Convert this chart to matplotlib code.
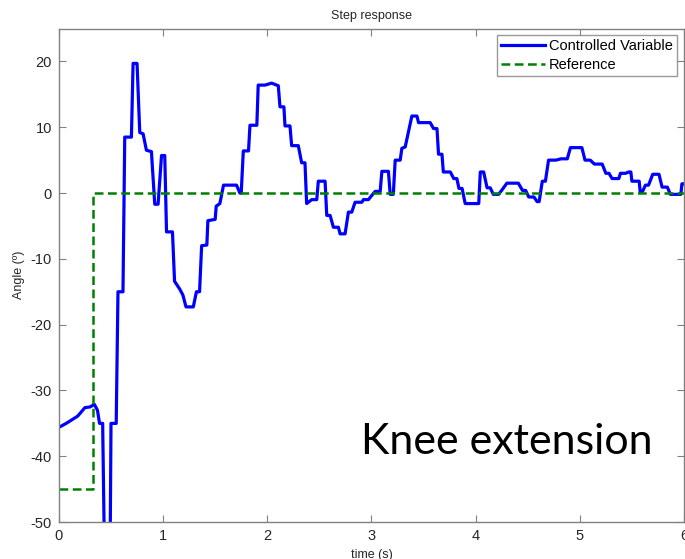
import matplotlib
matplotlib.use("Agg")
import matplotlib.pyplot as plt

plt.rcParams['font.family'] = ['Liberation Sans', 'DejaVu Sans']
plt.rcParams['axes.unicode_minus'] = False

# Measured joint angle (controlled variable) over time
t_meas = [0.00, 0.07, 0.12, 0.18, 0.25, 0.30, 0.34, 0.37, 0.39, 0.42, 0.44, 0.49, 0.50, 0.55,
          0.567, 0.615, 0.632, 0.696, 0.712, 0.75, 0.776, 0.808, 0.84, 0.888, 0.92, 0.952,
          0.985, 1.016, 1.033, 1.09, 1.11, 1.16, 1.19, 1.22, 1.29, 1.32, 1.35, 1.37, 1.42,
          1.43, 1.50, 1.51, 1.545, 1.58, 1.705, 1.737, 1.75, 1.77, 1.82, 1.834, 1.90, 1.913,
          1.978, 2.042, 2.106, 2.122, 2.16, 2.17, 2.218, 2.234, 2.298, 2.33, 2.362, 2.378,
          2.427, 2.475, 2.49, 2.555, 2.571, 2.603, 2.635, 2.683, 2.699, 2.747, 2.779, 2.811,
          2.843, 2.908, 2.923, 2.971, 3.004, 3.036, 3.084, 3.10, 3.163, 3.18, 3.21, 3.228,
          3.276, 3.292, 3.324, 3.388, 3.437, 3.452, 3.564, 3.596, 3.629, 3.644, 3.677, 3.69,
          3.757, 3.79, 3.82, 3.84, 3.87, 3.90, 4.03, 4.045, 4.077, 4.11, 4.14, 4.17, 4.22,
          4.25, 4.30, 4.41, 4.45, 4.48, 4.51, 4.56, 4.59, 4.61, 4.64, 4.67, 4.70, 4.77,
          4.82, 4.88, 4.91, 5.02, 5.05, 5.10, 5.14, 5.215, 5.25, 5.28, 5.31, 5.375, 5.39,
          5.44, 5.47, 5.49, 5.50, 5.57, 5.58, 5.60, 5.63, 5.66, 5.70, 5.76, 5.79, 5.84,
          5.87, 5.97, 5.98, 6.00]
angle_meas = [-35.6, -35.0, -34.5, -33.9, -32.6, -32.5, -32.1, -33.0, -35.0, -35.0, -58.0, -58.0,
              -35.0, -35.0, -15.0, -15.0, 8.5, 8.5, 19.7, 19.7, 9.2, 9.0, 6.5, 6.3, -1.7, -1.7,
              5.7, 5.7, -5.9, -5.9, -13.4, -14.6, -15.5, -17.3, -17.3, -15.0, -15.0, -8.0, -7.9,
              -4.2, -4.0, -2.0, -1.6, 1.2, 1.2, 0.0, 0.0, 6.4, 6.4, 10.3, 10.3, 16.4,
              16.4, 16.7, 16.3, 13.1, 13.1, 10.2, 10.2, 7.2, 7.2, 4.6, 4.6, -1.6,
              -1.0, -1.0, 1.8, 1.8, -3.4, -3.4, -5.2, -5.2, -6.2, -6.2, -2.9, -2.9,
              -1.4, -1.4, -1.0, -1.0, -0.35, 0.25, 0.25, 3.3, 3.3, -0.2, -0.2, 5.0,
              5.0, 6.8, 7.0, 11.7, 11.7, 10.7, 10.7, 9.8, 9.8, 5.9, 5.9, 3.2,
              3.2, 2.2, 2.2, 0.7, 0.7, -1.6, -1.6, 3.2, 3.2, 0.8, 0.8, -0.2, -0.2,
              0.4, 1.5, 1.5, 0.4, 0.4, -0.6, -0.6, -1.3, -1.3, 1.8, 1.8, 5.0, 5.0,
              5.2, 5.2, 6.9, 6.9, 5.0, 5.0, 4.4, 4.4, 3.0, 3.0, 2.2, 2.2, 3.0,
              3.0, 3.2, 3.2, 1.8, 1.8, 0.15, 0.15, 1.2, 1.2, 2.85, 2.85, 0.9, 0.9,
              -0.2, -0.2, 1.4, 1.4]

# Step reference signal
t_ref = [0.0, 0.33, 0.33, 6.0]
angle_ref = [-45.0, -45.0, 0.0, 0.0]

x_ticks = [0, 1, 2, 3, 4, 5, 6]
y_ticks = [-50, -40, -30, -20, -10, 0, 10, 20]

fig = plt.figure(figsize=(6.85, 5.59), dpi=100)
ax = fig.add_axes([0.086, 0.066, 0.9125, 0.883])

ax.plot(t_meas, angle_meas, color='#0000ff', lw=2.3, label='Controlled Variable',
        solid_joinstyle='round')
ax.plot(t_ref, angle_ref, color='#008000', lw=1.8, ls=(0, (3.5, 1.8)), label='Reference')

ax.set_xlim(0, 6)
ax.set_ylim(-50, 25)
ax.set_xticks(x_ticks)
ax.set_yticks(y_ticks)
ax.tick_params(direction='in', top=True, right=True, length=5, width=0.8,
               colors='#808080', labelcolor='#262626', labelsize=10.5, pad=5)
for s in ax.spines.values():
    s.set_color('#808080')
    s.set_linewidth(1.0)

ax.set_title('Step response', fontsize=9, color='#262626', pad=7)
ax.set_xlabel('time (s)', fontsize=9, color='#262626', labelpad=4)
ax.set_ylabel('Angle (º)', fontsize=9, color='#262626', labelpad=4)

leg = ax.legend(loc='upper right', fontsize=10.5, frameon=True, fancybox=False,
                borderaxespad=0.45, handlelength=3.0, borderpad=0.3, labelspacing=0.3,
                handletextpad=0.3)
leg.get_frame().set_edgecolor('#808080')
leg.get_frame().set_linewidth(1.0)

fig.text(0.953, 0.188, 'Knee extension', fontsize=31, family=['Lato', 'DejaVu Sans'],
         ha='right', va='baseline', color='black')

fig.savefig('out.png', dpi=100)
